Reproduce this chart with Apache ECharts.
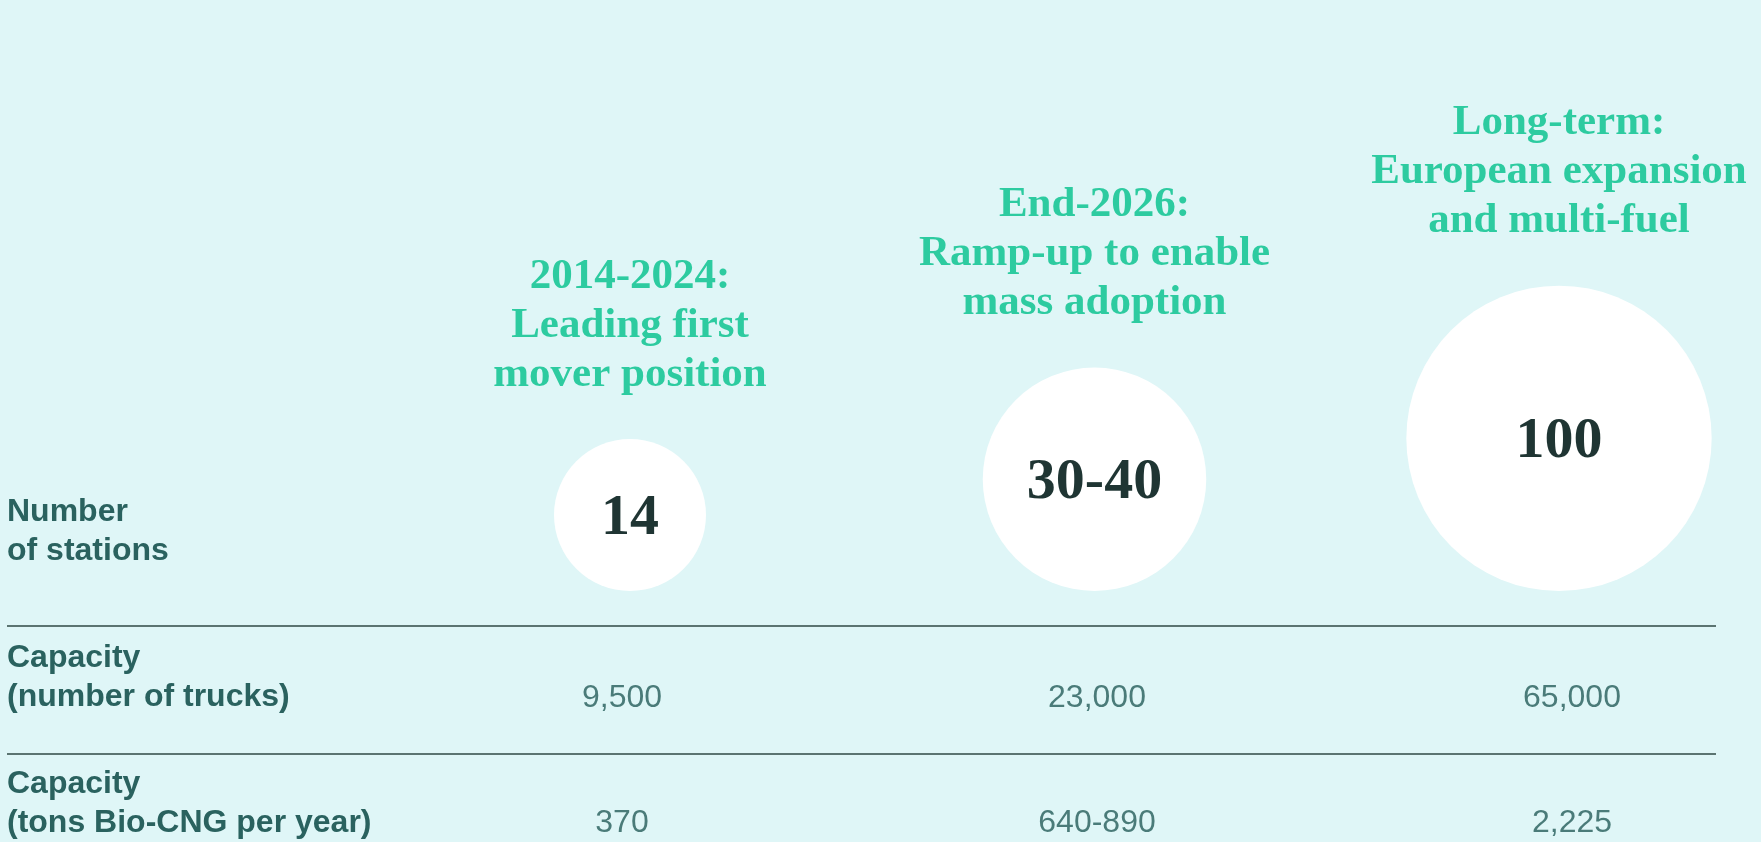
<!DOCTYPE html>
<html>
<head>
<meta charset="utf-8">
<script src="https://cdn.jsdelivr.net/npm/echarts@6/dist/echarts.min.js"></script>
<style>
  html, body { margin: 0; padding: 0; background: #dff6f7; }
  #chart { width: 1761px; height: 842px; }
</style>
</head>
<body>
<div id="chart"></div>
<script>
// ---- data ----
const phases = [
  '2014-2024:\nLeading first\nmover position',
  'End-2026:\nRamp-up to enable\nmass adoption',
  'Long-term:\nEuropean expansion\nand multi-fuel'
];
const stations = [14, 35, 100];              // 30-40 shown as range, midpoint used for size
const stationLabels = ['14', '30-40', '100'];
const rowLabels = [
  'Number\nof stations',
  'Capacity\n(number of trucks)',
  'Capacity\n(tons Bio-CNG per year)'
];
const trucks = ['9,500', '23,000', '65,000'];
const tonsBioCNG = ['370', '640-890', '2,225'];

// ---- styles ----
const BG = '#dff6f7';
const GREEN = '#00c189';
const DARK = '#1f3533';
const TEAL = '#2a625f';
const VALUE = '#245c59';
const RULE = '#5b7471';

function diameter(v) { return 152 + 78 * Math.log(v / 14); }

const circleData = stations.map((v, i) => ({ value: [i, 0, v], name: stationLabels[i], phase: phases[i] }));
const tableData = [];
trucks.forEach((t, i) => tableData.push({ value: [i, 0], label: t }));
tonsBioCNG.forEach((t, i) => tableData.push({ value: [i, 1], label: t }));

const chart = echarts.init(document.getElementById('chart'), null, { renderer: 'canvas' });
chart.setOption({
  backgroundColor: BG,
  animation: false,
  grid: [
    { left: 630, width: 929, top: 100, bottom: 251 },
    { left: 622, width: 950, top: 698, height: 125 }
  ],
  xAxis: [
    { type: 'value', gridIndex: 0, min: 0, max: 2, show: false },
    { type: 'value', gridIndex: 1, min: 0, max: 2, show: false }
  ],
  yAxis: [
    { type: 'value', gridIndex: 0, min: 0, max: 1, show: false },
    { type: 'value', gridIndex: 1, min: 0, max: 1, inverse: true, show: false }
  ],
  graphic: [
    { type: 'line', shape: { x1: 7, y1: 626, x2: 1716, y2: 626 }, style: { stroke: RULE, lineWidth: 2 } },
    { type: 'line', shape: { x1: 7, y1: 754, x2: 1716, y2: 754 }, style: { stroke: RULE, lineWidth: 2 } },
    ...rowLabels.map((t, i) => ({
      type: 'text', left: 7, top: [493, 639, 765][i],
      style: { text: t, fill: TEAL, font: 'bold 32px "Liberation Sans", Arial, sans-serif', lineHeight: 39 }
    }))
  ],
  series: [
    {
      type: 'scatter', xAxisIndex: 0, yAxisIndex: 0,
      data: circleData,
      symbol: 'circle',
      symbolSize: (val) => diameter(val[2]),
      symbolOffset: [0, '-50%'],
      itemStyle: { color: '#ffffff', opacity: 1 },
      label: {
        show: true, position: 'inside', offset: [0, 4],
        formatter: (p) => p.name,
        color: DARK, fontFamily: '"Liberation Serif", serif', fontWeight: 'bold', fontSize: 58
      },
      emphasis: { disabled: true }, silent: true, z: 2
    },
    {
      type: 'scatter', xAxisIndex: 0, yAxisIndex: 0,
      data: circleData,
      symbol: 'circle',
      symbolSize: (val) => diameter(val[2]),
      symbolOffset: [0, '-50%'],
      itemStyle: { color: 'rgba(0,0,0,0)' },
      label: {
        show: true, position: 'top', distance: 40,
        formatter: (p) => p.data.phase,
        color: GREEN, fontFamily: '"Liberation Serif", serif', fontWeight: 'bold', fontSize: 43, lineHeight: 49,
        align: 'center'
      },
      emphasis: { disabled: true }, silent: true, z: 3
    },
    {
      type: 'scatter', xAxisIndex: 1, yAxisIndex: 1,
      data: tableData,
      symbolSize: 1,
      itemStyle: { color: 'rgba(0,0,0,0)' },
      label: {
        show: true, position: 'inside',
        formatter: (p) => p.data.label,
        color: VALUE, fontFamily: '"Liberation Sans", Arial, sans-serif', fontSize: 32
      },
      emphasis: { disabled: true }, silent: true
    }
  ]
});
</script>
</body>
</html>
